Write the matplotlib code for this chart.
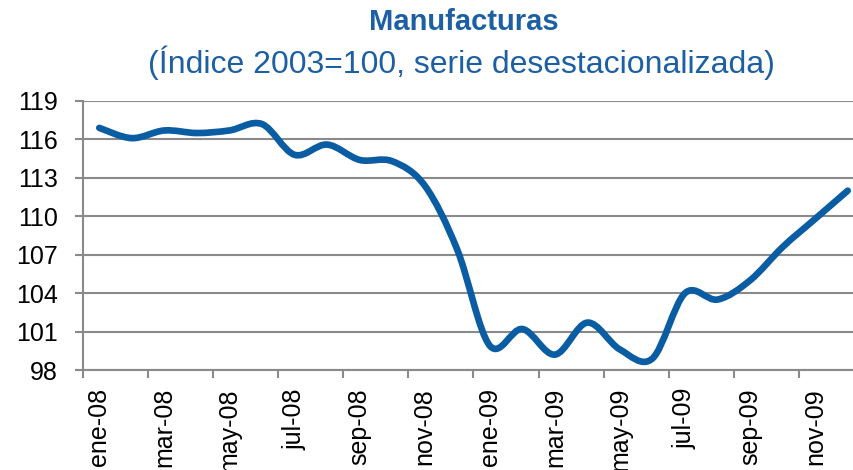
import numpy as np
import matplotlib
matplotlib.use("Agg")
import matplotlib.pyplot as plt
from matplotlib.path import Path
from matplotlib.patches import PathPatch

plt.rcParams['font.family'] = ['Liberation Sans', 'DejaVu Sans']

# monthly index, ene-08 .. dic-09
months = ['ene-08', 'feb-08', 'mar-08', 'abr-08', 'may-08', 'jun-08',
          'jul-08', 'ago-08', 'sep-08', 'oct-08', 'nov-08', 'dic-08',
          'ene-09', 'feb-09', 'mar-09', 'abr-09', 'may-09', 'jun-09',
          'jul-09', 'ago-09', 'sep-09', 'oct-09', 'nov-09', 'dic-09']
indice = [116.9, 116.1, 116.7, 116.5, 116.7, 117.2,
          114.8, 115.6, 114.4, 114.3, 112.4, 107.4,
          99.9, 101.2, 99.2, 101.7, 99.6, 98.9,
          104.0, 103.5, 105.0, 107.6, 109.8, 112.0]
yticks = [98, 101, 104, 107, 110, 113, 116, 119]

title = 'Manufacturas'
subtitle = '(Índice 2003=100, serie desestacionalizada)'

blue_line = '#0a5da3'
blue_text = '#1d5fa3'
grey = '#8a8a8a'


def smooth_path(xs, ys):
	# excel style smoothed line: bezier segments with catmull-rom controls
	pts = np.column_stack([xs, ys]).astype(float)
	n = len(pts)
	verts = [pts[0]]
	codes = [Path.MOVETO]
	for i in range(n - 1):
		p0 = pts[i - 1] if i > 0 else pts[i]
		p1 = pts[i]
		p2 = pts[i + 1]
		p3 = pts[i + 2] if i + 2 < n else pts[i + 1]
		c1 = p1 + (p2 - p0) / 6.0
		c2 = p2 - (p3 - p1) / 6.0
		verts += [c1, c2, p2]
		codes += [Path.CURVE4, Path.CURVE4, Path.CURVE4]
	return Path(verts, codes)


fig = plt.figure(figsize=(8.54, 4.70), dpi=100)
ax = fig.add_axes([83 / 854, 1 - 370 / 470, 781 / 854, 269 / 470])

x = np.arange(len(months))
patch = PathPatch(smooth_path(x, indice), facecolor='none', edgecolor=blue_line,
                  lw=4.8, capstyle='round', joinstyle='round', clip_on=False)
ax.add_patch(patch)

ax.set_xlim(-0.5, len(months) - 0.5)
ax.set_ylim(98, 119)

# labels every two months, tick marks between categories
ax.set_xticks(x[::2])
ax.set_xticklabels(months[::2], rotation=90, fontsize=18)
ax.set_xticks(np.arange(-0.5, len(months), 2), minor=True)
ax.tick_params(axis='x', which='major', length=0, pad=13)
ax.tick_params(axis='x', which='minor', length=6, width=1.5, color=grey, direction='out')

ax.set_yticks(yticks)
ax.set_yticklabels([str(v) for v in yticks], fontsize=18)
ax.tick_params(axis='y', length=6, width=1.5, color=grey, pad=12)

ax.grid(axis='y', color=grey, lw=1.5)
ax.set_axisbelow(True)
for s in ['top', 'right']:
	ax.spines[s].set_visible(False)
for s in ['left', 'bottom']:
	ax.spines[s].set_color(grey)
	ax.spines[s].set_linewidth(1.5)

fig.text(464 / 854, 1 - 22 / 470, title, ha='center', va='center',
         fontsize=21, fontweight='bold', color=blue_text)
fig.text(461 / 854, 1 - 63 / 470, subtitle, ha='center', va='center',
         fontsize=23, color=blue_text)

fig.savefig('out.png', dpi=100)
